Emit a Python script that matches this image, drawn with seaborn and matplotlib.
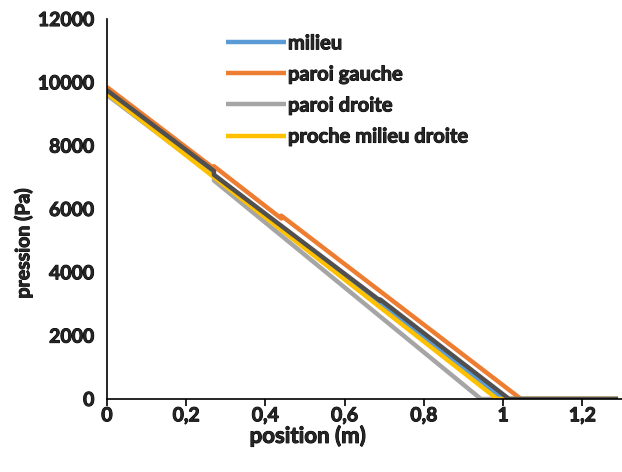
import matplotlib
matplotlib.use("Agg")
import matplotlib.pyplot as plt
import matplotlib.patheffects as pe
import seaborn as sns
import pandas as pd
from matplotlib.ticker import FuncFormatter

# ---- data ----
milieu_x = [0.0, 1.000, 1.29]
milieu_y = [9700, 0, 0]

gauche_x = [0.0, 0.27, 0.27, 0.44, 0.44, 1.045, 1.29]
gauche_y = [9850, 7280, 7350, 5700, 5790, 0, 0]

droite_x = [0.0, 0.27, 0.27, 0.944, 1.29]
droite_y = [9600, 7050, 6900, 0, 0]

proche_x = [0.0, 0.985, 1.29]
proche_y = [9650, 0, 0]

sombre_x = [0.0, 0.27, 0.27, 0.69, 0.69, 1.015, 1.29]
sombre_y = [9750, 7200, 7080, 3100, 3140, 0, 0]

series_names = ["milieu", "paroi gauche", "paroi droite", "proche milieu droite", "proche milieu gauche"]
series_colors = ["#5B9BD5", "#ED7D31", "#A5A5A5", "#FFC000", "#505050"]
xticks = [0, 0.2, 0.4, 0.6, 0.8, 1.0, 1.2]
yticks = [0, 2000, 4000, 6000, 8000, 10000, 12000]

frames = []
for name, xs, ys in zip(series_names,
                        [milieu_x, gauche_x, droite_x, proche_x, sombre_x],
                        [milieu_y, gauche_y, droite_y, proche_y, sombre_y]):
    frames.append(pd.DataFrame({"position": xs, "pression": ys, "serie": name}))
df = pd.concat(frames, ignore_index=True)

sns.set_style("white")
plt.rcParams["font.family"] = ["Lato", "DejaVu Sans"]
W = "bold"
thick = [pe.withStroke(linewidth=0.7, foreground="black")]

fig = plt.figure(figsize=(6.22, 4.72), dpi=100)
ax = fig.add_axes([0.172, 0.1547, 0.828, 0.805])

palette = dict(zip(series_names, series_colors))
sns.lineplot(data=df, x="position", y="pression", hue="serie", units="serie",
             estimator=None, sort=False, palette=palette, hue_order=series_names,
             linewidth=3.2, ax=ax, legend=True)
for line in ax.get_lines():
    line.set_solid_joinstyle("round")
    line.set_solid_capstyle("butt")

ax.set_xlim(0, 1.3)
ax.set_ylim(0, 12000)
ax.set_xticks(xticks)
ax.set_yticks(yticks)
ax.xaxis.set_major_formatter(FuncFormatter(lambda v, p: ("%g" % round(v, 2)).replace(".", ",")))
ax.yaxis.set_major_formatter(FuncFormatter(lambda v, p: "%d" % v))

for s in ["top", "right"]:
    ax.spines[s].set_visible(False)
for s in ["left", "bottom"]:
    ax.spines[s].set_color("black")
    ax.spines[s].set_linewidth(1.2)
ax.tick_params(axis="x", direction="out", length=5, width=1.2, color="black",
               labelsize=14, pad=1, bottom=True)
ax.tick_params(axis="y", length=0, labelsize=14, pad=9)
for lab in ax.get_xticklabels() + ax.get_yticklabels():
    lab.set_fontweight(W)
    lab.set_path_effects(thick)

ax.set_xlabel("position (m)", fontsize=16, fontweight=W, path_effects=thick)
ax.set_ylabel("pression (Pa)", fontsize=14, fontweight=W, path_effects=thick)
ax.xaxis.set_label_coords(0.39, -0.068)
ax.yaxis.set_label_coords(-0.145, 0.41)

handles, labels = ax.get_legend_handles_labels()
keep = [(h, l) for h, l in zip(handles, labels) if l in series_names[:4]]
leg = ax.legend([h for h, l in keep], [l for h, l in keep], loc="upper left",
                bbox_to_anchor=(0.195, 1.01), frameon=False,
                handlelength=3.0, handletextpad=0.1, labelspacing=0.55,
                prop={"weight": W, "size": 14.5})
for h in leg.legend_handles:
    h.set_linewidth(3.2)
for t in leg.get_texts():
    t.set_path_effects(thick)

fig.savefig("out.png", dpi=100)
